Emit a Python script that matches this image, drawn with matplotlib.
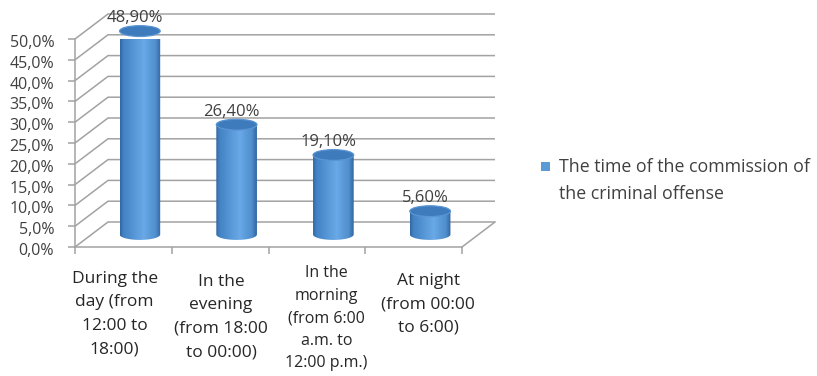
import numpy as np
import matplotlib
matplotlib.use("Agg")
import matplotlib.pyplot as plt
from matplotlib.patches import Ellipse, Polygon, Rectangle
from matplotlib.colors import LinearSegmentedColormap
from matplotlib.transforms import blended_transform_factory, ScaledTranslation

# ---- data ----
categories = [
    "During the\nday (from\n12:00 to\n18:00)",
    "In the\nevening\n(from 18:00\nto 00:00)",
    "In the\nmorning\n(from 6:00\na.m. to\n12:00 p.m.)",
    "At night\n(from 00:00\nto 6:00)",
]
values = [48.9, 26.4, 19.1, 5.6]
value_labels = ["48,90%", "26,40%", "19,10%", "5,60%"]
y_ticks = [0, 5, 10, 15, 20, 25, 30, 35, 40, 45, 50]
y_tick_labels = ["0,0%", "5,0%", "10,0%", "15,0%", "20,0%", "25,0%",
                 "30,0%", "35,0%", "40,0%", "45,0%", "50,0%"]
series_name = "The time of the commission of\nthe criminal offense"

# ---- layout / style ----
plt.rcParams["font.family"] = ["Open Sans", "DejaVu Sans"]
W, H = 817, 376
fig = plt.figure(figsize=(W / 100, H / 100), dpi=100)
ax = fig.add_axes([75 / W, 1 - 247 / H, (462 - 75) / W, (247 - 39) / H])
ax.set_facecolor("none")

n = len(values)
XMAX, YMAX = n, 50
DX = 33 / (387 / n)          # depth offset in category units
DY = 25 / (208 / YMAX)       # depth offset in percent units
grid_c = "#a2a2a2"
text_c = "#404040"

# back wall gridlines with their side-wall diagonals
for v in y_ticks:
    ax.plot([0, DX, XMAX + DX], [v, v + DY, v + DY], color=grid_c, lw=1.1,
            clip_on=False, zorder=1, solid_capstyle="butt")
# right edge of the floor
ax.plot([XMAX, XMAX + DX], [0, DY], color=grid_c, lw=1.1, clip_on=False, zorder=1)

# cylinders
cmap = LinearSegmentedColormap.from_list(
    "cyl",
    [(0.0, "#2f64a0"), (0.08, "#4282c4"), (0.58, "#69a9e7"),
     (0.88, "#4f8dcc"), (1.0, "#30659f")],
)
grad = np.linspace(0, 1, 256)[None, :]
hw = 0.21
ry = 1.3
base = DY / 2
for i, v in enumerate(values):
    cx = i + 0.5 + DX / 2
    top = base + v
    th_low = np.linspace(np.pi, 2 * np.pi, 60)
    th_up = np.linspace(0, np.pi, 60)
    xs = np.concatenate([cx + hw * np.cos(th_low), cx + hw * np.cos(th_up)])
    ys = np.concatenate([base + ry * np.sin(th_low), top + ry * np.sin(th_up)])
    body = Polygon(np.column_stack([xs, ys]), closed=True, facecolor="none",
                   edgecolor="none", zorder=3, clip_on=False)
    ax.add_patch(body)
    im = ax.imshow(grad, cmap=cmap, extent=[cx - hw, cx + hw, base - ry, top + ry],
                   aspect="auto", interpolation="bilinear", zorder=3)
    im.set_clip_path(body)
    im.set_clip_box(None)
    cap = Ellipse((cx, top), 2 * hw, 2 * ry, facecolor="#3e7bbd",
                  edgecolor="#5a95d2", lw=0.9, zorder=4, clip_on=False)
    ax.add_patch(cap)
    ax.text(cx - 0.05, top + ry + 0.9, value_labels[i], ha="center", va="baseline",
            fontsize=12, color=text_c, zorder=5)

ax.set_xlim(0, XMAX)
ax.set_ylim(0, YMAX)

# axes: front edge of the floor and front vertical axis
for s in ["top", "right"]:
    ax.spines[s].set_visible(False)
for s in ["left", "bottom"]:
    ax.spines[s].set_color(grid_c)
    ax.spines[s].set_linewidth(1.1)
ax.set_xticks(range(n + 1))
ax.set_xticklabels([])
ax.set_yticks(y_ticks)
ax.set_yticklabels(y_tick_labels)
ax.tick_params(axis="both", direction="out", length=5, width=1.1, color=grid_c)
ax.tick_params(axis="y", labelsize=11.5, labelcolor=text_c, pad=10)
for lbl in ax.get_yticklabels():
    lbl.set_transform(lbl.get_transform() + ScaledTranslation(0, -2 / 100, fig.dpi_scale_trans))

# category labels under the floor
lab_tr = blended_transform_factory(ax.transData, fig.transFigure)
lab_x = [0.41, 1.51, 2.6, 3.65]
lab_top = [271, 274, 265, 273]
lab_size = [12.5, 12.5, 11.5, 12.5]
lab_ls = [1.62, 1.62, 1.55, 1.62]
for i, c in enumerate(categories):
    ax.text(lab_x[i], 1 - lab_top[i] / H, c, transform=lab_tr, ha="center",
            va="top", multialignment="center", fontsize=lab_size[i],
            linespacing=lab_ls[i], color="#262626")

# legend
fig.patches.append(Rectangle((541 / W, 1 - 171 / H), 9 / W, 9 / H,
                             facecolor="#5b9bd5", edgecolor="none",
                             transform=fig.transFigure, figure=fig))
fig.text(559 / W, 1 - 158 / H, series_name, ha="left", va="top",
         fontsize=12.8, linespacing=1.62, color=text_c)

fig.savefig("out.png", dpi=100)
